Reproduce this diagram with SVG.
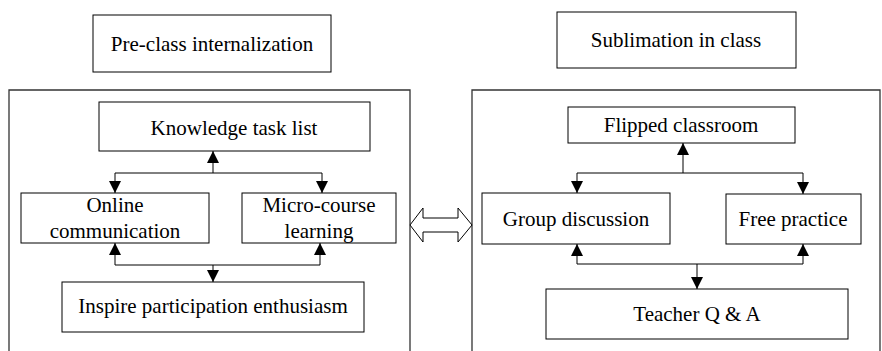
<svg xmlns="http://www.w3.org/2000/svg" width="882" height="351" viewBox="0 0 882 351">
<defs>
<style>
.box{fill:#fff;stroke:#000;stroke-width:1}
.panel{fill:none;stroke:#333;stroke-width:1.3}
.t{font-family:"Liberation Serif","Times New Roman",serif;font-size:21px;fill:#000;text-anchor:middle}
.c{fill:none;stroke:#000;stroke-width:1}
</style>
<marker id="ah" viewBox="0 0 12 12" refX="12" refY="6" markerWidth="12" markerHeight="12" markerUnits="userSpaceOnUse" orient="auto">
<path d="M0,0 L12,6 L0,12 z" fill="#000"/>
</marker>
</defs>
<rect width="882" height="351" fill="#fff"/>
<g id="panel-left"><path class="panel" d="M9,351 V90 H410 V351"/></g>
<g id="panel-right"><path class="panel" d="M472,351 V90 H880 V351"/></g>
<g id="preclass"><rect class="box" x="93" y="15" width="238" height="57"/><text class="t" x="212" y="51">Pre-class internalization</text></g>
<g id="sublimation"><rect class="box" x="557" y="12" width="239" height="56"/><text class="t" x="676" y="47">Sublimation in class</text></g>
<g id="knowledge"><rect class="box" x="99" y="102" width="271" height="49"/><text class="t" x="234" y="135">Knowledge task list</text></g>
<g id="online"><rect class="box" x="21" y="193" width="188" height="50"/><text class="t" x="115" y="212">Online</text><text class="t" x="115" y="238">communication</text></g>
<g id="micro"><rect class="box" x="242" y="193" width="154" height="50"/><text class="t" x="319" y="212">Micro-course</text><text class="t" x="319" y="238">learning</text></g>
<g id="inspire"><rect class="box" x="62" y="282" width="302" height="50"/><text class="t" x="213" y="313">Inspire participation enthusiasm</text></g>
<g id="flipped"><rect class="box" x="568" y="107" width="227" height="36"/><text class="t" x="681" y="132">Flipped classroom</text></g>
<g id="group"><rect class="box" x="482" y="193" width="188" height="51"/><text class="t" x="576" y="226">Group discussion</text></g>
<g id="free"><rect class="box" x="726" y="194" width="135" height="50"/><text class="t" x="793" y="226">Free practice</text></g>
<g id="teacher"><rect class="box" x="546" y="289" width="302" height="50"/><text class="t" x="697" y="321">Teacher Q &amp; A</text></g>
<g id="connectors">
<path class="c" d="M213,173 V151" marker-end="url(#ah)"/>
<path class="c" d="M115,173 H322"/>
<path class="c" d="M115,173 V193" marker-end="url(#ah)"/>
<path class="c" d="M322,173 V193" marker-end="url(#ah)"/>
<path class="c" d="M115,265 H320"/>
<path class="c" d="M115,265 V243" marker-end="url(#ah)"/>
<path class="c" d="M320,265 V243" marker-end="url(#ah)"/>
<path class="c" d="M213,265 V282" marker-end="url(#ah)"/>
<path class="c" d="M683,173 V143" marker-end="url(#ah)"/>
<path class="c" d="M577,173 H803"/>
<path class="c" d="M577,173 V193" marker-end="url(#ah)"/>
<path class="c" d="M803,173 V194" marker-end="url(#ah)"/>
<path class="c" d="M577,264 H803"/>
<path class="c" d="M577,264 V244" marker-end="url(#ah)"/>
<path class="c" d="M803,264 V244" marker-end="url(#ah)"/>
<path class="c" d="M697,264 V289" marker-end="url(#ah)"/>
<path d="M410,225 L423,208 V218 H458 V208 L472,225 L458,242 V232 H423 V242 Z" fill="#fff" stroke="#000" stroke-width="1"/>
</g>
</svg>
